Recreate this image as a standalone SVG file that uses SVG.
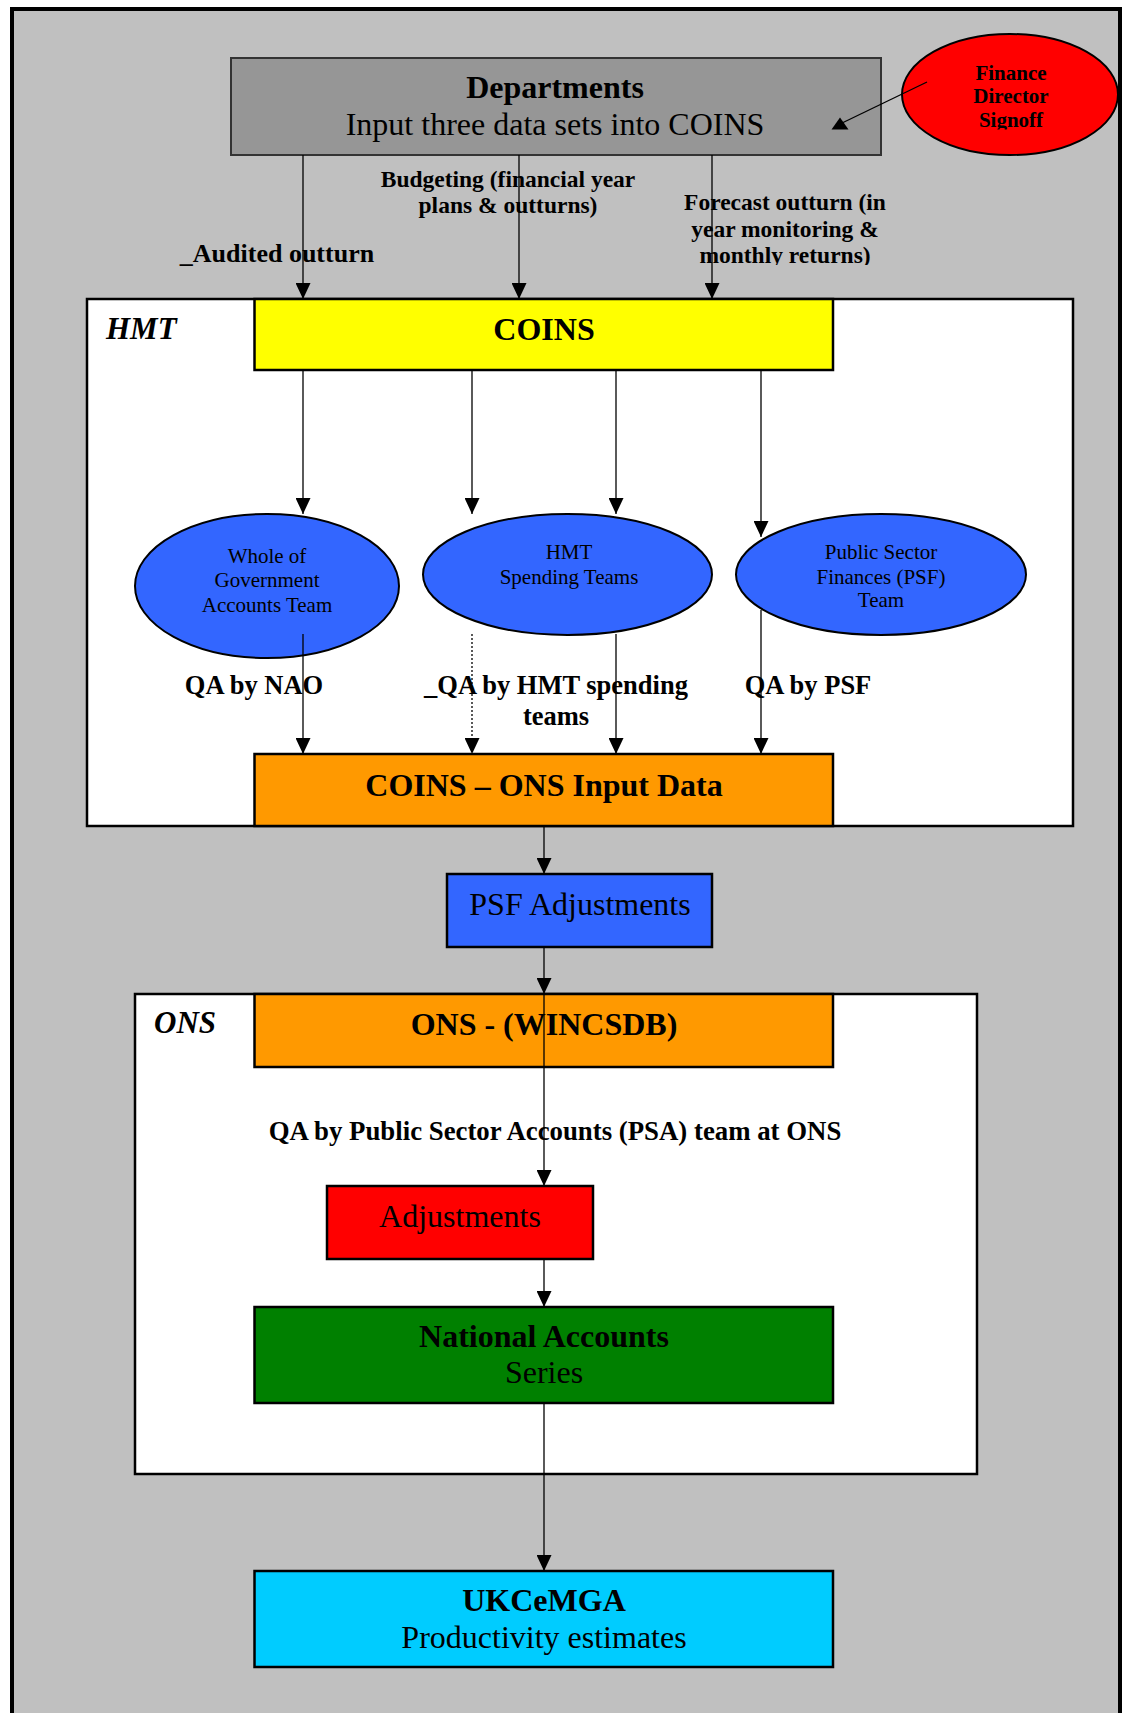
<svg xmlns="http://www.w3.org/2000/svg" width="1127" height="1713" viewBox="0 0 1127 1713">
<style>
text{font-family:"Liberation Serif","Times New Roman",serif;fill:#000}
.c{text-anchor:middle}
.b{font-weight:bold}
.bi{font-weight:bold;font-style:italic}
.box{stroke:#000;stroke-width:2.5}
.cont{fill:#fff;stroke:#000;stroke-width:2.5}
.ell{fill:#3366FF;stroke:#000;stroke-width:2}
.ln{stroke:#000;stroke-width:1.3;fill:none}
</style>
<defs>
<marker id="ah" markerUnits="userSpaceOnUse" markerWidth="16" markerHeight="15" refX="16" refY="7.5" orient="auto">
<path d="M0,0 L16,7.5 L0,15 z" fill="#000"/>
</marker>
<clipPath id="clipFc"><rect x="600" y="160" width="320" height="105"/></clipPath>
<clipPath id="clipFin"><rect x="900" y="30" width="220" height="99.5"/></clipPath>
</defs>
<rect x="12" y="9" width="1108" height="1720" fill="#C0C0C0" stroke="#000" stroke-width="4"/>

<g id="hmt-container">
<rect class="cont" x="87" y="299" width="986" height="527"/>
<text class="bi" x="106" y="339" font-size="31">HMT</text>
</g>
<g id="ons-container">
<rect class="cont" x="135" y="994" width="842" height="480"/>
<text class="bi" x="154" y="1033" font-size="31">ONS</text>
</g>

<g id="departments">
<rect x="231" y="58" width="650" height="97" fill="#969696" stroke="#333" stroke-width="2"/>
<text class="c b" x="555" y="98" font-size="32">Departments</text>
<text class="c" x="555" y="135" font-size="32">Input three data sets into COINS</text>
</g>
<g id="finance">
<ellipse cx="1010" cy="94.5" rx="108" ry="60.5" fill="#FF0000" stroke="#000" stroke-width="2"/>
<g clip-path="url(#clipFin)">
<text class="c b" x="1011" y="80" font-size="21">Finance</text>
<text class="c b" x="1011" y="103" font-size="21">Director</text>
<text class="c b" x="1011" y="127" font-size="21">Signoff</text>
</g>
</g>
<g id="coins">
<rect class="box" x="254.5" y="299" width="578.5" height="71" fill="#FFFF00"/>
<text class="c b" x="544" y="340" font-size="32">COINS</text>
</g>
<g id="wga">
<ellipse class="ell" cx="267" cy="586" rx="132" ry="72"/>
<text class="c" x="267" y="563" font-size="21">Whole of</text>
<text class="c" x="267" y="587" font-size="21">Government</text>
<text class="c" x="267" y="612" font-size="21">Accounts Team</text>
</g>
<g id="spending">
<ellipse class="ell" cx="567.5" cy="574.5" rx="144.5" ry="60.5"/>
<text class="c" x="569" y="558.5" font-size="21">HMT</text>
<text class="c" x="569" y="583.5" font-size="21">Spending Teams</text>
</g>
<g id="psf-team">
<ellipse class="ell" cx="881" cy="574.5" rx="145" ry="60.5"/>
<text class="c" x="881" y="558.5" font-size="21">Public Sector</text>
<text class="c" x="881" y="583.5" font-size="21">Finances (PSF)</text>
<text class="c" x="881" y="607" font-size="21">Team</text>
</g>
<g id="coins-ons">
<rect class="box" x="254.5" y="754" width="578.5" height="72" fill="#FF9900"/>
<text class="c b" x="544" y="796" font-size="32">COINS – ONS Input Data</text>
</g>
<g id="psf-adj">
<rect class="box" x="447" y="874" width="265" height="73" fill="#3366FF"/>
<text class="c" x="580" y="915" font-size="32">PSF Adjustments</text>
</g>
<g id="ons-wincsdb">
<rect class="box" x="254.5" y="994" width="578.5" height="73" fill="#FF9900"/>
<text class="c b" x="544" y="1035" font-size="32">ONS - (WINCSDB)</text>
</g>
<g id="adjustments">
<rect class="box" x="327" y="1186" width="266" height="73" fill="#FF0000"/>
<text class="c" x="460" y="1227" font-size="32">Adjustments</text>
</g>
<g id="national-accounts">
<rect class="box" x="254.5" y="1307" width="578.5" height="96" fill="#008000"/>
<text class="c b" x="544" y="1347" font-size="32">National Accounts</text>
<text class="c" x="544" y="1383" font-size="32">Series</text>
</g>
<g id="ukcemga">
<rect class="box" x="254.5" y="1571" width="578.5" height="96" fill="#00CCFF"/>
<text class="c b" x="544" y="1611" font-size="32">UKCeMGA</text>
<text class="c" x="544" y="1648" font-size="32">Productivity estimates</text>
</g>

<g id="labels">
<text class="c b" x="508" y="187" font-size="23.5">Budgeting (financial year</text>
<text class="c b" x="508" y="213" font-size="23.5">plans &amp; outturns)</text>
<g clip-path="url(#clipFc)">
<text class="c b" x="785" y="210" font-size="23.5">Forecast outturn (in</text>
<text class="c b" x="785" y="237" font-size="23.5">year monitoring &amp;</text>
<text class="c b" x="785" y="263" font-size="23.5">monthly returns)</text>
</g>
<text class="c b" x="277" y="262" font-size="26">_Audited outturn</text>
<text class="c b" x="254" y="694" font-size="26.5">QA by NAO</text>
<text class="c b" x="556" y="694" font-size="26.5">_QA by HMT spending</text>
<text class="c b" x="556" y="725" font-size="26.5">teams</text>
<text class="c b" x="808" y="694" font-size="26.5">QA by PSF</text>
<text class="c b" x="555" y="1140" font-size="26.8">QA by Public Sector Accounts (PSA) team at ONS</text>
</g>

<g id="connectors">
<line class="ln" x1="303" y1="155" x2="303" y2="299" marker-end="url(#ah)"/>
<line class="ln" x1="519" y1="155" x2="519" y2="299" marker-end="url(#ah)"/>
<line class="ln" x1="712" y1="155" x2="712" y2="299" marker-end="url(#ah)"/>
<line class="ln" x1="927" y1="82" x2="840" y2="124"/>
<polygon points="831.5,129.5 848.5,129.5 840,117.5" fill="#000"/>
<line class="ln" x1="303" y1="370" x2="303" y2="514" marker-end="url(#ah)"/>
<line class="ln" x1="472" y1="370" x2="472" y2="514" marker-end="url(#ah)"/>
<line class="ln" x1="616" y1="370" x2="616" y2="514" marker-end="url(#ah)"/>
<line class="ln" x1="761" y1="370" x2="761" y2="537" marker-end="url(#ah)"/>
<line class="ln" x1="303" y1="634" x2="303" y2="754" marker-end="url(#ah)"/>
<line class="ln" x1="472" y1="634" x2="472" y2="754" stroke-dasharray="2,2" marker-end="url(#ah)"/>
<line class="ln" x1="616" y1="634" x2="616" y2="754" marker-end="url(#ah)"/>
<line class="ln" x1="761" y1="610" x2="761" y2="754" marker-end="url(#ah)"/>
<line class="ln" x1="544" y1="826" x2="544" y2="874" marker-end="url(#ah)"/>
<line class="ln" x1="544" y1="947" x2="544" y2="994" marker-end="url(#ah)"/>
<line class="ln" x1="544" y1="994" x2="544" y2="1186" marker-end="url(#ah)"/>
<line class="ln" x1="544" y1="1259" x2="544" y2="1307" marker-end="url(#ah)"/>
<line class="ln" x1="544" y1="1403" x2="544" y2="1571" marker-end="url(#ah)"/>
</g>
</svg>
